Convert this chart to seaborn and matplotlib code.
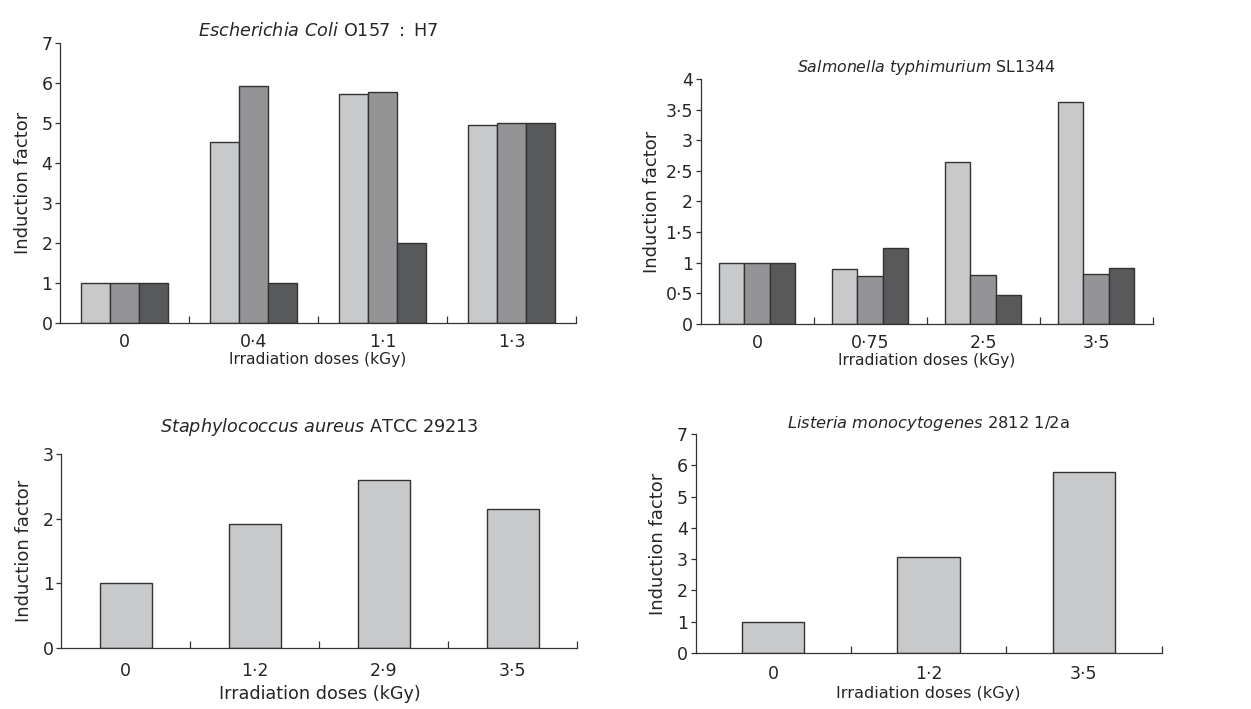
import numpy as np
import pandas as pd
import matplotlib
matplotlib.use("Agg")
import matplotlib.pyplot as plt
from matplotlib.ticker import FuncFormatter, FixedLocator
import seaborn as sns

# Data
ecoli_doses = ["0", "0·4", "1·1", "1·3"]
ecoli_s1 = [1.0, 4.52, 5.73, 4.94]
ecoli_s2 = [1.0, 5.92, 5.77, 5.0]
ecoli_s3 = [1.0, 1.0, 2.0, 5.0]

salm_doses = ["0", "0·75", "2·5", "3·5"]
salm_s1 = [1.0, 0.90, 2.64, 3.63]
salm_s2 = [1.0, 0.79, 0.80, 0.82]
salm_s3 = [1.0, 1.24, 0.48, 0.92]

staph_doses = ["0", "1·2", "2·9", "3·5"]
staph_vals = [1.0, 1.92, 2.60, 2.15]

list_doses = ["0", "1·2", "3·5"]
list_vals = [1.0, 3.06, 5.78]

series_names = ["s1", "s2", "s3"]
colors = ["#c8c9cb", "#939498", "#58595b"]

sns.set_style("ticks")
plt.rcParams["font.family"] = ["DejaVu Sans"]
plt.rcParams["mathtext.fontset"] = "dejavusans"

fig = plt.figure(figsize=(12.51, 7.09), dpi=100)
ax1 = fig.add_axes([0.0480, 0.5444, 0.4125, 0.395])
ax2 = fig.add_axes([0.5600, 0.5430, 0.3613, 0.3456])
ax3 = fig.add_axes([0.0490, 0.0860, 0.4125, 0.2736])
ax4 = fig.add_axes([0.5560, 0.0790, 0.3725, 0.3089])

edge = "#333333"


def grouped(ax, doses, s1, s2, s3):
    df = pd.DataFrame({
        "dose": doses * 3,
        "factor": s1 + s2 + s3,
        "series": [n for n in series_names for _ in doses],
    })
    sns.barplot(data=df, x="dose", y="factor", hue="series", order=doses,
                hue_order=series_names, palette=colors, width=0.67, gap=0,
                edgecolor=edge, linewidth=1.0, legend=False, ax=ax)


def single(ax, doses, vals):
    df = pd.DataFrame({"dose": doses, "factor": vals})
    sns.barplot(data=df, x="dose", y="factor", order=doses, color=colors[0],
                saturation=1, width=0.4, edgecolor=edge, linewidth=1.0, ax=ax)


def dot_fmt(v, pos):
    s = ("%g" % v)
    return s.replace(".", "·")


def style(ax, n, ymax, ystep, title, tsize, fsize, lsize, xpad, lpad, tpad, ypad):
    ax.set_xlim(-0.5, n - 0.5)
    ax.set_ylim(0, ymax)
    ax.set_yticks(np.arange(0, ymax + ystep / 2, ystep))
    ax.yaxis.set_major_formatter(FuncFormatter(dot_fmt))
    ax.xaxis.set_minor_locator(FixedLocator(np.arange(0.5, n, 1.0)))
    ax.tick_params(axis="x", which="major", length=0, labelsize=fsize, pad=xpad)
    ax.tick_params(axis="x", which="minor", direction="in", length=5,
                   width=0.9, color=edge)
    ax.tick_params(axis="y", direction="out", length=3.5, width=0.9,
                   color=edge, labelsize=fsize, pad=2)
    for side in ["top", "right"]:
        ax.spines[side].set_visible(False)
    for side in ["left", "bottom"]:
        ax.spines[side].set_color(edge)
        ax.spines[side].set_linewidth(0.9)
    ax.set_xlabel("Irradiation doses (kGy)", fontsize=lsize, labelpad=lpad)
    ax.set_ylabel("Induction factor", fontsize=13, labelpad=ypad)
    ax.set_title(title, fontsize=tsize, pad=tpad)


grouped(ax1, ecoli_doses, ecoli_s1, ecoli_s2, ecoli_s3)
style(ax1, 4, 7, 1, r"$\mathit{Escherichia\ Coli}\ \mathrm{O157\ :\ H7}$",
      12.7, 12.5, 11.2, 7, 1, 5, 7)

grouped(ax2, salm_doses, salm_s1, salm_s2, salm_s3)
style(ax2, 4, 4, 0.5, r"$\mathit{Salmonella\ typhimurium}\ \mathrm{SL1344}$",
      11.3, 12.5, 11.2, 7, 1, 5, 3)

single(ax3, staph_doses, staph_vals)
style(ax3, 4, 3, 1, r"$\mathit{Staphylococcus\ aureus}\ \mathrm{ATCC\ 29213}$",
      12.7, 12.5, 12.7, 10, 4, 16, 7)

single(ax4, list_doses, list_vals)
style(ax4, 3, 7, 1, r"$\mathit{Listeria\ monocytogenes}\ \mathrm{2812\ 1/2a}$",
      11.7, 12.5, 11.6, 9, 2, 4, 7)

fig.savefig("out.png", dpi=100)
